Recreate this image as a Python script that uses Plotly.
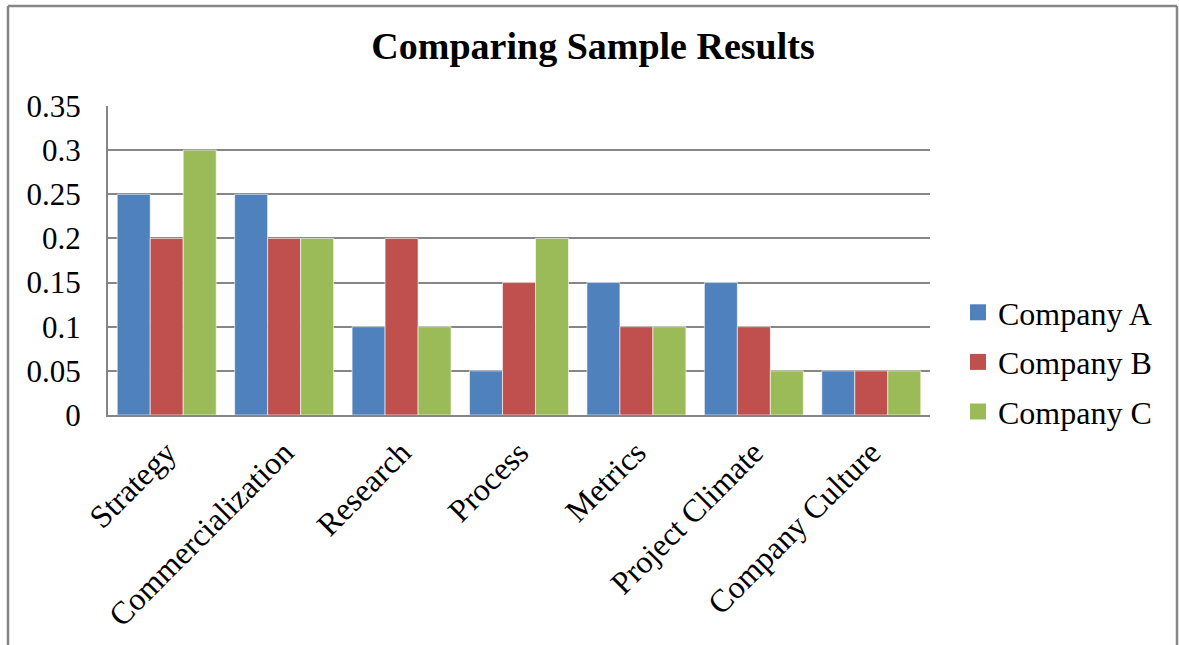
import plotly.graph_objects as go

categories = ["Strategy", "Commercialization", "Research", "Process", "Metrics",
              "Project Climate", "Company Culture"]
company_a = [0.25, 0.25, 0.10, 0.05, 0.15, 0.15, 0.05]
company_b = [0.20, 0.20, 0.20, 0.15, 0.10, 0.10, 0.05]
company_c = [0.30, 0.20, 0.10, 0.20, 0.10, 0.05, 0.05]
series_names = ["Company A", "Company B", "Company C"]
colors = ["#4F81BD", "#C0504D", "#9BBB59"]
y_ticks = [0, 0.05, 0.1, 0.15, 0.2, 0.25, 0.3, 0.35]
y_tick_labels = ["0", "0.05", "0.1", "0.15", "0.2", "0.25", "0.3", "0.35"]

FONT = "Liberation Serif, Times New Roman, serif"

fig = go.Figure()
for name, vals, col in zip(series_names, [company_a, company_b, company_c], colors):
    fig.add_trace(go.Bar(x=categories, y=vals, name=name, marker_color=col,
                         marker_line=dict(color="rgba(255,255,255,0.6)", width=1),
                         showlegend=False))
for i, (name, col) in enumerate(zip(series_names, colors)):
    fig.add_trace(go.Scatter(x=[None], y=[None], mode="markers", name=name,
                             marker=dict(symbol="square", size=17, color=col),
                             legendgroup=name, showlegend=True))

L, R, T, B = 108, 930, 106, 415
W, H = 1179, 645
pw, ph = R - L, B - T

def px(x):
    return (x - L) / pw

def py(y):
    return (B - y) / ph

fig.update_layout(
    width=W, height=H,
    margin=dict(l=L, r=W - R, t=T, b=H - B, pad=0),
    paper_bgcolor="white", plot_bgcolor="white",
    font=dict(family=FONT, size=32, color="black"),
    barmode="group", bargap=0.157, bargroupgap=0,
    title=dict(text="<b>Comparing Sample Results</b>", x=0.503, xanchor="center",
               y=1 - 46 / H, yanchor="middle", yref="container",
               font=dict(family=FONT, size=38, color="black")),
    legend=dict(x=px(958), xanchor="left", y=py(362), yanchor="middle",
                font=dict(family=FONT, size=32), tracegroupgap=5,
                traceorder="grouped", bgcolor="rgba(0,0,0,0)", itemwidth=30),
    xaxis=dict(tickangle=-45, showline=True, linecolor="#868686", linewidth=2,
               showgrid=False, ticks="outside", ticklen=4, tickcolor="rgba(0,0,0,0)",
               tickfont=dict(family=FONT, size=32)),
    yaxis=dict(range=[0, 0.35], tickvals=y_ticks, ticktext=y_tick_labels,
               showline=True, linecolor="#868686", linewidth=2,
               showgrid=True, gridcolor="#868686", gridwidth=1.5, zeroline=False,
               ticks="outside", ticklen=19, tickcolor="rgba(0,0,0,0)",
               tickfont=dict(family=FONT, size=31)),
)

# chart border (left, top, right)
border = dict(color="#868686", width=2.5)
fig.add_shape(type="line", xref="paper", yref="paper", x0=px(8), x1=px(8),
              y0=py(6), y1=py(660), line=border)
fig.add_shape(type="line", xref="paper", yref="paper", x0=px(8), x1=px(1177),
              y0=py(6), y1=py(6), line=border)
fig.add_shape(type="line", xref="paper", yref="paper", x0=px(1177), x1=px(1177),
              y0=py(6), y1=py(660), line=border)

fig.write_html("out.html", config={"displayModeBar": False},
               post_script="document.body.style.margin='0';")
